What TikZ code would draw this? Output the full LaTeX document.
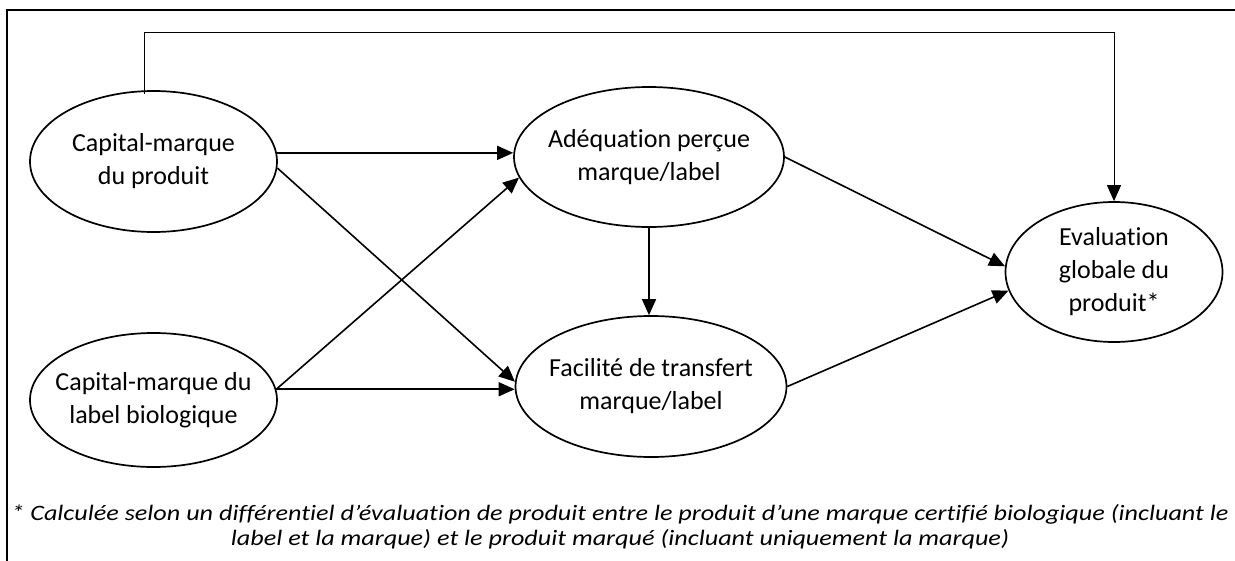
\documentclass[tikz,border=0pt]{standalone}
\usepackage{fontspec}
\setmainfont{Carlito}[Ligatures=NoCommon]
\newfontfamily\notefont{Carlito}[Ligatures=NoCommon,FakeStretch=1.19]
\usetikzlibrary{arrows.meta,shapes.geometric}
\begin{document}
\begin{tikzpicture}[x=1pt,y=-1pt,
  concept/.style={draw,ellipse,line width=1.7pt,inner sep=0pt},
  ctext/.style={align=center,inner sep=0pt,font=\fontsize{26}{33}\selectfont},
  link/.style={line width=1.6pt,-{Triangle[length=16pt,width=14pt]}},
  thinlink/.style={line width=1pt,-{Triangle[length=16pt,width=14pt]}},
  frame/.style={line width=2.2pt},
  note/.style={align=center,inner sep=0pt,font=\notefont\fontsize{22}{25}\selectfont\itshape}]
\useasboundingbox (0,0) rectangle (1235,560);
\draw[frame] (1245,10) -- (7,10) -- (7,570);

\node[concept,minimum width=247pt,minimum height=141pt] (E1) at (153.5,161.5) {};
\node[ctext] (T1) at (E1) {Capital-marque\\du produit};
\node[concept,minimum width=247pt,minimum height=134pt] (E4) at (153.5,400) {};
\node[ctext] (T4) at (E4) {Capital-marque du\\label biologique};
\node[concept,minimum width=270pt,minimum height=140pt] (E2) at (649,157) {};
\node[ctext] (T2) at (E2) {Adéquation perçue\\marque/label};
\node[concept,minimum width=271pt,minimum height=141pt] (E5) at (651,386.5) {};
\node[ctext] (T5) at (E5) {Facilité de transfert\\marque/label};
\node[concept,minimum width=217pt,minimum height=140pt] (E3) at (1114,272) {};
\node[ctext] (T3) at (E3) {Evaluation\\globale du\\produit*};

\coordinate (top) at (0,32);
\coordinate (E1top) at ([xshift=-9.5pt,yshift=-4pt]E1.north);

\draw[thinlink] (E1top) |- (top -| E3.north) -- (E3.north);
\draw[link] (E1.4) -- (E1.4 -| E2.west);
\draw[link] (E1.-3) -- (E5.178);
\draw[link] (E4.5) -- (E2.189);
\draw[link] (E4.5) -- (E4.5 -| E5.west);
\draw[link] (E2.south) -- (E2.south |- E5.north);
\draw[link] (E2.east) -- (E3.177);
\draw[link] (E5.east) -- (E3.190);

\node[note] (N) at (620,527) {* Calculée selon un différentiel d’évaluation de produit entre le produit d’une marque certifié biologique (incluant le\\label et la marque) et le produit marqué (incluant uniquement la marque)};
\end{tikzpicture}
\end{document}
